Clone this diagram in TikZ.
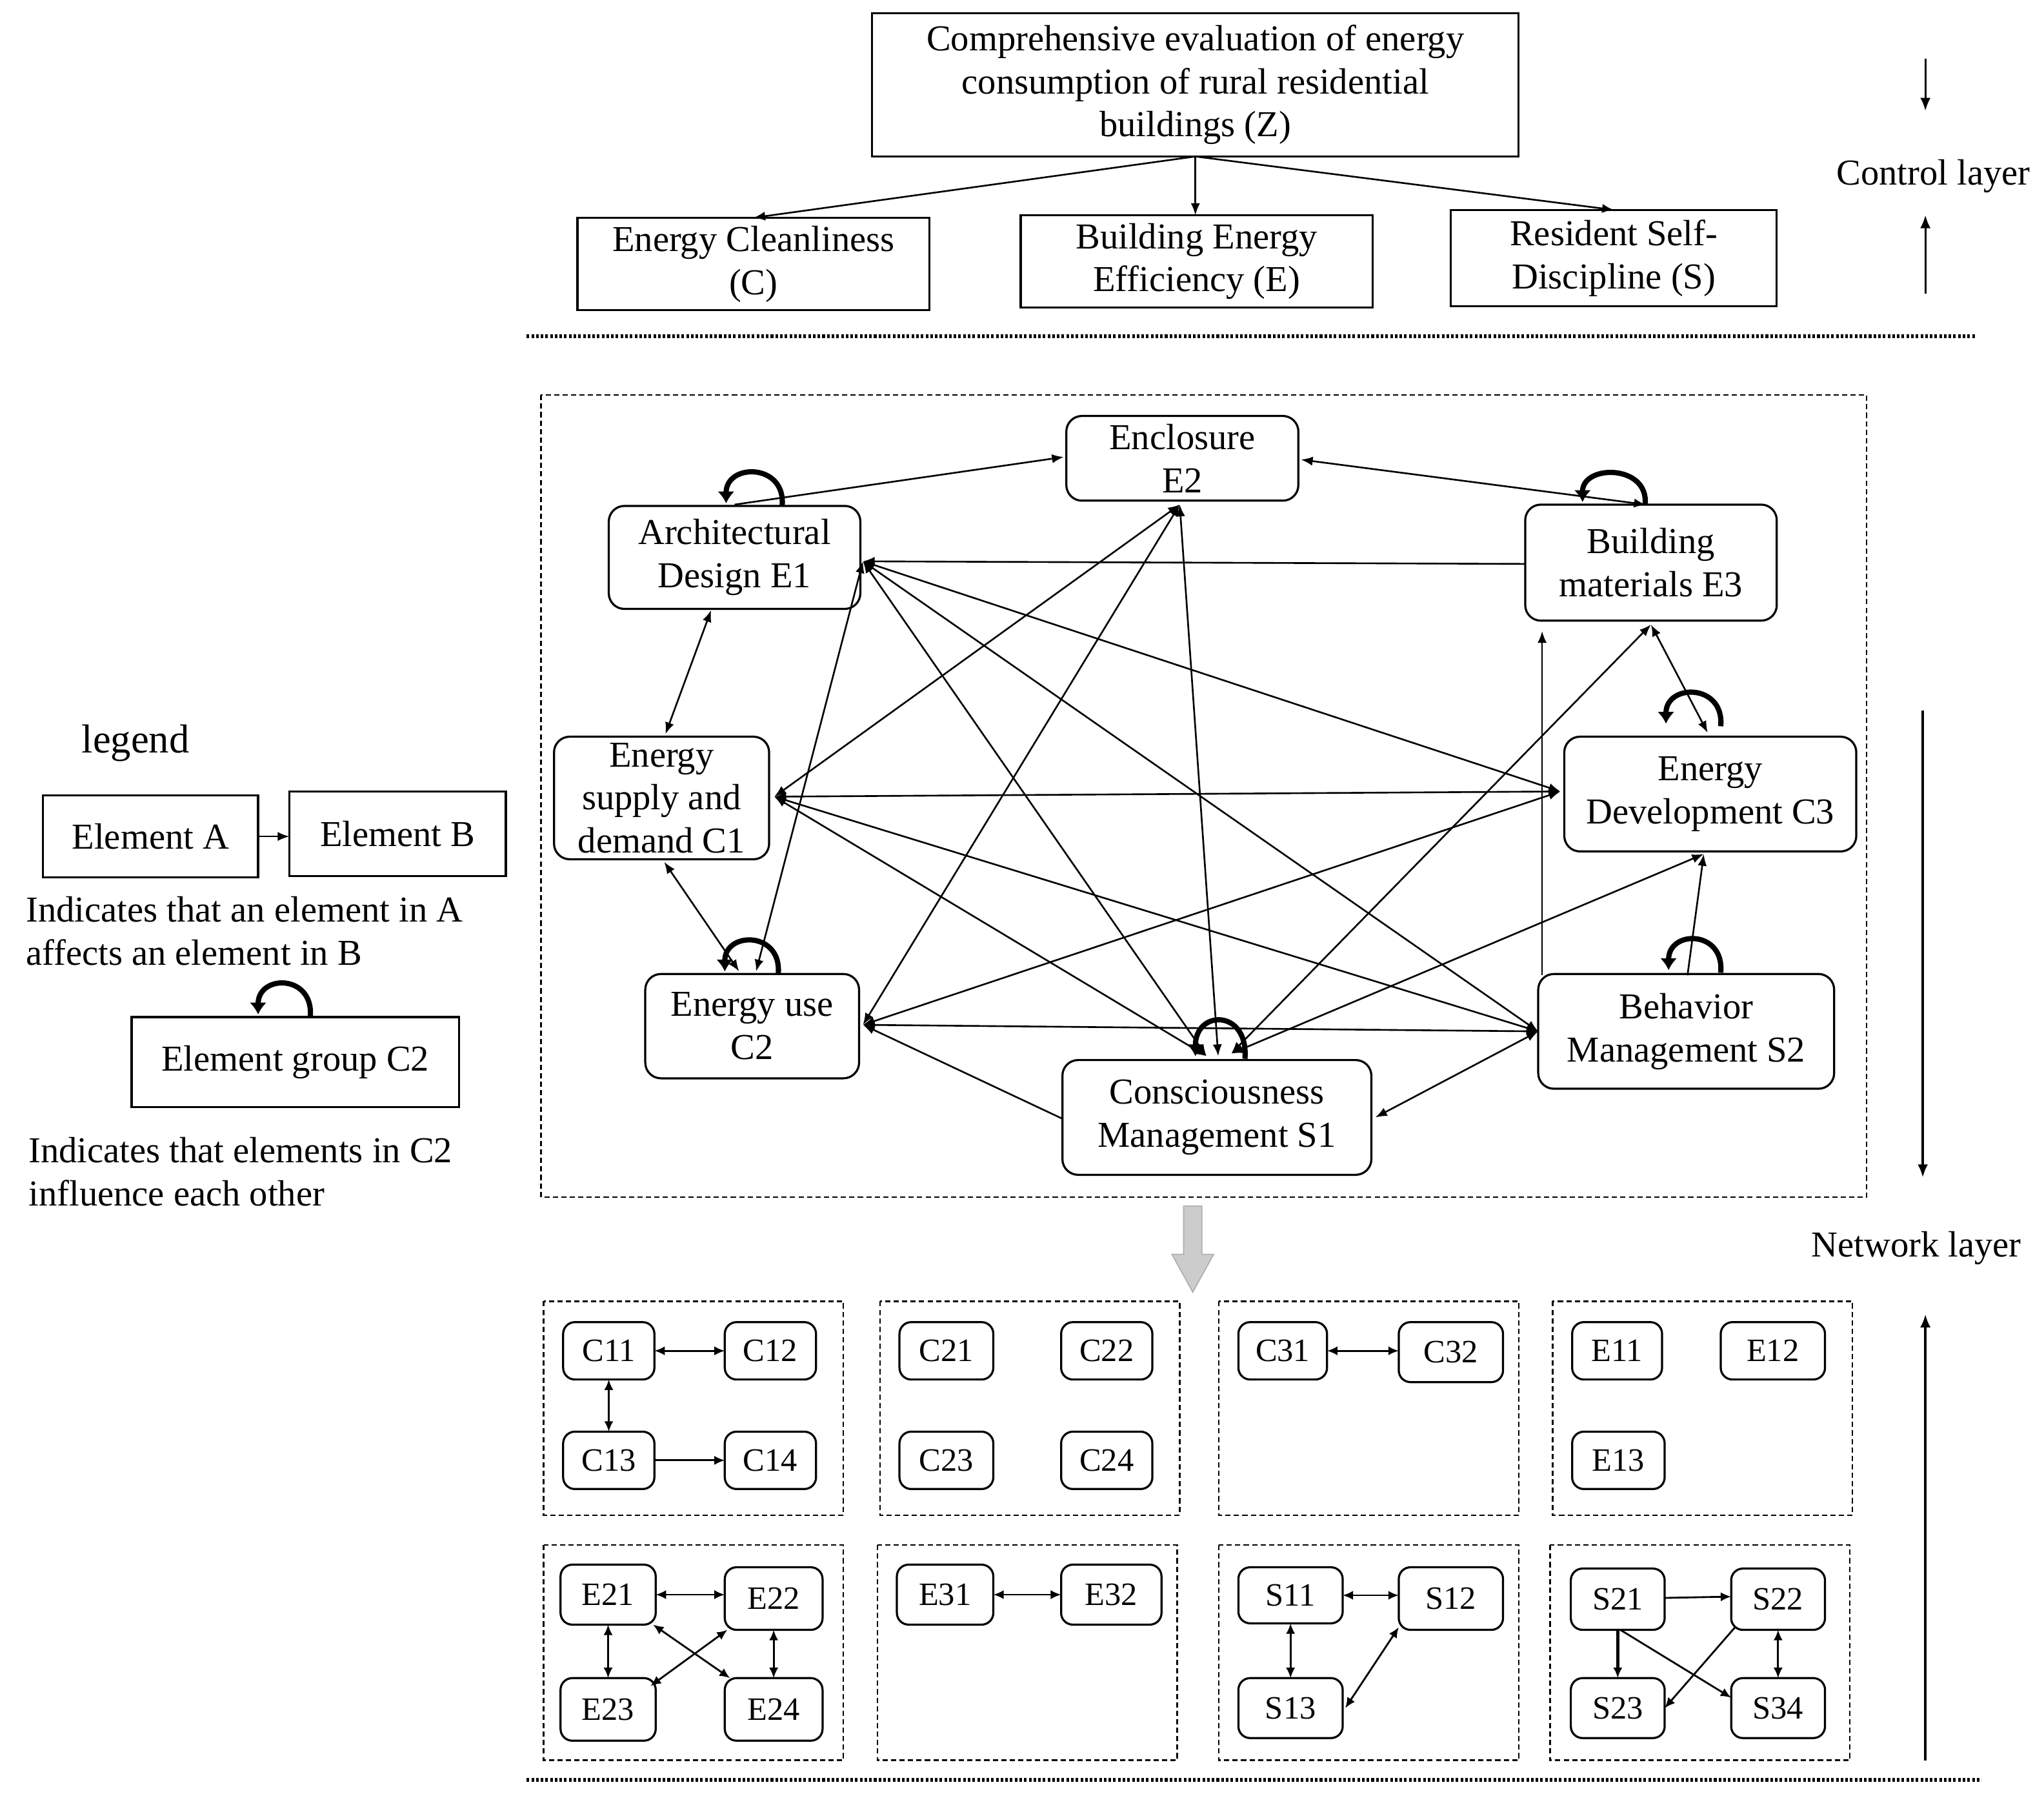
\documentclass[tikz,border=0pt]{standalone}
\usepackage{fontspec}
\setmainfont{Liberation Serif}
\usetikzlibrary{arrows.meta,calc}
\begin{document}
\begin{tikzpicture}[x=1pt,y=-1pt,
  every node/.style={inner sep=0pt, outer sep=0pt},
  txt/.style={font=\fontsize{28}{33}\selectfont, align=center},
  sqbox/.style={draw, line width=1.6pt, txt},
  rbox/.style={draw, line width=1.6pt, rounded corners=12pt, txt},
  sbox/.style={draw, line width=1.6pt, rounded corners=9pt, font=\fontsize{25}{30}\selectfont},
  grp/.style={draw, line width=1.2pt, dash pattern=on 4pt off 2.5pt},
  ed/.style={line width=1.3pt, {Latex[length=9pt,width=7pt]}-{Latex[length=9pt,width=7pt]}},
  ar/.style={line width=1.3pt, -{Latex[length=9pt,width=7pt]}},
  sed/.style={line width=1.4pt, {Latex[length=8pt,width=7pt]}-{Latex[length=8pt,width=7pt]}},
  sar/.style={line width=1.4pt, -{Latex[length=8pt,width=7pt]}},
  lp/.style={line width=4pt, -{Latex[length=9pt,width=13pt]}},
  dotline/.style={line width=3pt, dash pattern=on 2pt off 1.6pt},
  side/.style={line width=1.8pt, -{Latex[length=10pt,width=8pt]}},
]
\useasboundingbox (0,0) rectangle (1568,1377);

% ---------- control layer ----------
\node[sqbox, minimum width=496pt, minimum height=110pt] (Z) at (917,65)
  {Comprehensive evaluation of energy\\consumption of rural residential\\buildings (Z)};
\node[sqbox, minimum width=270pt, minimum height=71pt] (C) at (578,202.5) {Energy Cleanliness\\(C)};
\node[sqbox, minimum width=270pt, minimum height=71pt] (E) at (918,200.5) {Building Energy\\Efficiency (E)};
\node[sqbox, minimum width=250pt, minimum height=74pt] (S) at (1238,198) {Resident Self-\\Discipline (S)};
\draw[ar] (Z.south) -- (C.north);
\draw[ar] (Z.south) -- (Z.south |- E.north);
\draw[ar] (Z.south) -- (S.north);

\coordinate (d1a) at (404,258); \coordinate (d1b) at (1516,258);
\draw[dotline] (d1a) -- (d1b);
\coordinate (d2a) at (404,1365); \coordinate (d2b) at (1520,1365);
\draw[dotline] (d2a) -- (d2b);

\node[txt] (CL) at (1483,135) {Control layer};
\coordinate (ca1) at (1477,45); \coordinate (ca2) at (1477,85);
\coordinate (ca3) at (1477,225); \coordinate (ca4) at (1477,165);
\draw[side, line width=1.5pt] (ca1) -- (ca2);
\draw[side, line width=1.5pt] (ca3) -- (ca4);

\node[txt] (NL) at (1470,957) {Network layer};
\coordinate (na1) at (1475,545); \coordinate (na2) at (1475,903);
\coordinate (na3) at (1477,1350); \coordinate (na4) at (1477,1008);
\draw[side] (na1) -- (na2);
\draw[side] (na3) -- (na4);

% ---------- network ----------
\draw[grp] (415,303) rectangle (1432,918);

\node[rbox, minimum width=178pt, minimum height=65pt] (E2) at (907,351.5) {Enclosure\\E2};
\node[rbox, minimum width=193pt, minimum height=79pt] (E1) at (563.5,427.5) {Architectural\\Design E1};
\node[rbox, minimum width=193pt, minimum height=89pt] (E3) at (1266.5,431.5) {Building\\materials E3};
\node[rbox, minimum width=165pt, minimum height=94pt] (C1) at (507.5,612) {Energy\\supply and\\demand C1};
\node[rbox, minimum width=224pt, minimum height=88pt] (C3) at (1312,609) {Energy\\Development C3};
\node[rbox, minimum width=164pt, minimum height=80pt] (C2) at (577,787) {Energy use\\C2};
\node[rbox, minimum width=227pt, minimum height=88pt] (S2) at (1293.5,791) {Behavior\\Management S2};
\node[rbox, minimum width=237pt, minimum height=88pt] (S1) at (933.5,857) {Consciousness\\Management S1};

\coordinate (E1r) at ($(E1.east)+(2,3)$);
\coordinate (E1t) at ($(E1.north)+(0,-1)$);
\coordinate (E1b) at ($(E1.south)+(-18,1)$);
\coordinate (E2l) at ($(E2.west)+(-2,-1)$);
\coordinate (E2r) at ($(E2.east)+(2,1)$);
\coordinate (E2b) at ($(E2.south)+(-2,3)$);
\coordinate (E3t) at ($(E3.north)+(-4,0)$);
\coordinate (E3l) at ($(E3.west)+(0,1)$);
\coordinate (E3b) at ($(E3.south)+(0,3)$);
\coordinate (E3bl) at ($(E3.south west)+(13,8)$);
\coordinate (C1t) at ($(C1.north)+(3,-2)$);
\coordinate (C1b) at ($(C1.south)+(2,2)$);
\coordinate (C1r) at ($(C1.east)+(4,-1)$);
\coordinate (C2t1) at ($(C2.north)+(-10,-2)$);
\coordinate (C2t2) at ($(C2.north)+(3,-2)$);
\coordinate (C2r) at ($(C2.east)+(3,-1)$);
\coordinate (C3t) at ($(C3.north)+(-2,-3)$);
\coordinate (C3l) at ($(C3.west)+(-3,-2)$);
\coordinate (C3b) at ($(C3.south)+(-5,2)$);
\coordinate (S1t1) at ($(S1.north)+(-8,-3)$);
\coordinate (S1t2) at ($(S1.north)+(1,-3)$);
\coordinate (S1t3) at ($(S1.north)+(11,-5)$);
\coordinate (S1l) at ($(S1.west)+(0,1)$);
\coordinate (S1r) at ($(S1.east)+(3,0)$);
\coordinate (S2l) at ($(S2.west)+(0,0)$);
\coordinate (S2tl) at ($(S2.north west)+(3,1)$);
\coordinate (S2t) at ($(S2.north)+(1,1)$);

\draw[ar] (E1t) -- (E2l);
\draw[ed] (E2r) -- (E3t);
\draw[ar] (E3l) -- (E1r);
\draw[ed] (E1b) -- (C1t);
\draw[ed] (C1b) -- (C2t1);
\draw[ed] (E1r) -- (C2t2);
\draw[ed] (C1r) -- (E2b);
\draw[ed] (C2r) -- (E2b);
\draw[ed] (S1t2) -- (E2b);
\draw[ed] (E1r) -- (S1t1);
\draw[ed] (E1r) -- (S2l);
\draw[ed] (E1r) -- (C3l);
\draw[ed] (E3b) -- (S1t3);
\draw[ed] (E3b) -- (C3t);
\draw[ar] (S2tl) -- (E3bl);
\draw[ed] (C1r) -- (C3l);
\draw[ed] (C1r) -- (S1t1);
\draw[ed] (C1r) -- (S2l);
\draw[ed] (C2r) -- (C3l);
\draw[ed] (C2r) -- (S2l);
\draw[ar] (S1l) -- (C2r);
\draw[ed] (S2l) -- (S1r);
\draw[ed] (S1t3) -- (C3b);
\draw[ar] (S2t) -- (C3b);

% self loops
\draw[lp] (600,388) .. controls (603,355) and (557,355) .. (557,386);
\draw[lp] (1262,387) .. controls (1265,356) and (1214,356) .. (1214,385);
\draw[lp] (1320,557) .. controls (1323,524) and (1278,524) .. (1278,555);
\draw[lp] (597,747) .. controls (600,714) and (556,714) .. (556,745);
\draw[lp] (1320,746) .. controls (1323,713) and (1280,713) .. (1280,744);
\draw[lp] (955,812) .. controls (958,774) and (917,774) .. (917,810);

% ---------- legend ----------
\node[txt, font=\fontsize{31}{36}\selectfont] (leg) at (104,570) {legend};
\node[sqbox, minimum width=165pt, minimum height=63pt] (EA) at (115.5,641.5) {Element A};
\node[sqbox, minimum width=166pt, minimum height=65pt] (EB) at (305,639.5) {Element B};
\draw[ar] (EA.east) -- (EA.east -| EB.west);
\node[txt, anchor=west, align=left] (t1) at (20,714) {Indicates that an element in A\\affects an element in B};
\node[sqbox, minimum width=251pt, minimum height=69pt] (EG) at (226.5,814.5) {Element group C2};
\draw[lp] (238,780) .. controls (241,747) and (198,747) .. (198,778);
\node[txt, anchor=west, align=left] (t2) at (22,898.5) {Indicates that elements in C2\\influence each other};

% ---------- gray arrow ----------
\fill[gray!40, draw=gray!65, line width=0.8pt] (908,925) -- (922,925) -- (922,962) -- (931,962) -- (915,991) -- (899,962) -- (908,962) -- cycle;

% ---------- element groups ----------
\draw[grp] (417,998) rectangle (647,1162);
\draw[grp] (675,998) rectangle (905,1162);
\draw[grp] (935,998) rectangle (1165,1162);
\draw[grp] (1191,998) rectangle (1421,1162);
\draw[grp] (417,1185) rectangle (647,1350);
\draw[grp] (673,1185) rectangle (903,1350);
\draw[grp] (935,1185) rectangle (1165,1350);
\draw[grp] (1189,1185) rectangle (1419,1350);

\node[sbox, minimum width=70pt, minimum height=44pt] (C11) at (467,1036) {C11};
\node[sbox, minimum width=70pt, minimum height=44pt] (C12) at (591,1036) {C12};
\node[sbox, minimum width=70pt, minimum height=44pt] (C13) at (467,1120) {C13};
\node[sbox, minimum width=70pt, minimum height=44pt] (C14) at (591,1120) {C14};
\draw[sed] (C11.east) -- (C12.west);
\draw[sed] (C11.south) -- (C13.north);
\draw[sar] (C13.east) -- (C14.west);

\node[sbox, minimum width=72pt, minimum height=44pt] (C21) at (726,1036) {C21};
\node[sbox, minimum width=70pt, minimum height=44pt] (C22) at (849,1036) {C22};
\node[sbox, minimum width=72pt, minimum height=44pt] (C23) at (726,1120) {C23};
\node[sbox, minimum width=70pt, minimum height=44pt] (C24) at (849,1120) {C24};

\node[sbox, minimum width=68pt, minimum height=44pt] (C31) at (984,1036) {C31};
\node[sbox, minimum width=80pt, minimum height=46pt] (C32) at (1113,1037) {C32};
\draw[sed] (C31.east) -- (C31.east -| C32.west);

\node[sbox, minimum width=69pt, minimum height=44pt] (E11) at (1240.5,1036) {E11};
\node[sbox, minimum width=80pt, minimum height=44pt] (E12) at (1360,1036) {E12};
\node[sbox, minimum width=71pt, minimum height=44pt] (E13) at (1241.5,1120) {E13};

\node[sbox, minimum width=73pt, minimum height=46pt] (E21) at (466.5,1223) {E21};
\node[sbox, minimum width=75pt, minimum height=48pt] (E22) at (593.5,1226) {E22};
\node[sbox, minimum width=73pt, minimum height=48pt] (E23) at (466.5,1311) {E23};
\node[sbox, minimum width=75pt, minimum height=48pt] (E24) at (593.5,1311) {E24};
\draw[sed] (E21.east) -- (E21.east -| E22.west);
\draw[sed] (E21.south) -- (E21.south |- E23.north);
\draw[sed] (E22.south) -- (E22.south |- E24.north);
\draw[sed] ($(E21.south east)+(-2,0)$) -- ($(E24.north west)+(4,0)$);
\draw[sed] ($(E22.south west)+(2,0)$) -- ($(E23.north east)+(-4,6)$);

\node[sbox, minimum width=74pt, minimum height=46pt] (E31) at (725,1223) {E31};
\node[sbox, minimum width=77pt, minimum height=46pt] (E32) at (852.5,1223) {E32};
\draw[sed] (E31.east) -- (E32.west);

\node[sbox, minimum width=80pt, minimum height=43pt] (S11) at (990,1223.5) {S11};
\node[sbox, minimum width=80pt, minimum height=48pt] (S12) at (1113,1226) {S12};
\node[sbox, minimum width=80pt, minimum height=46pt] (S13) at (990,1310) {S13};
\draw[sed] (S11.east) -- (S11.east -| S12.west);
\draw[sed] (S11.south) -- (S13.north);
\draw[sed] ($(S13.east)+(2,0)$) -- ($(S12.south west)+(0,-2)$);

\node[sbox, minimum width=72pt, minimum height=47pt] (S21) at (1241,1226.5) {S21};
\node[sbox, minimum width=72pt, minimum height=47pt] (S22) at (1364,1226.5) {S22};
\node[sbox, minimum width=72pt, minimum height=46pt] (S23) at (1241,1310) {S23};
\node[sbox, minimum width=72pt, minimum height=46pt] (S34) at (1364,1310) {S34};
\draw[sar] ($(S21.east)+(0,-1)$) -- ($(S22.west)+(0,-2)$);
\draw[sar, line width=2.2pt] (S21.south) -- (S23.north);
\draw[sar] ($(S21.south)+(2,0)$) -- ($(S34.west)+(0,-8)$);
\draw[sar] ($(S22.south west)+(3,-2)$) -- ($(S23.east)+(0,0)$);
\draw[sed] (S22.south) -- (S34.north);

\end{tikzpicture}
\end{document}
